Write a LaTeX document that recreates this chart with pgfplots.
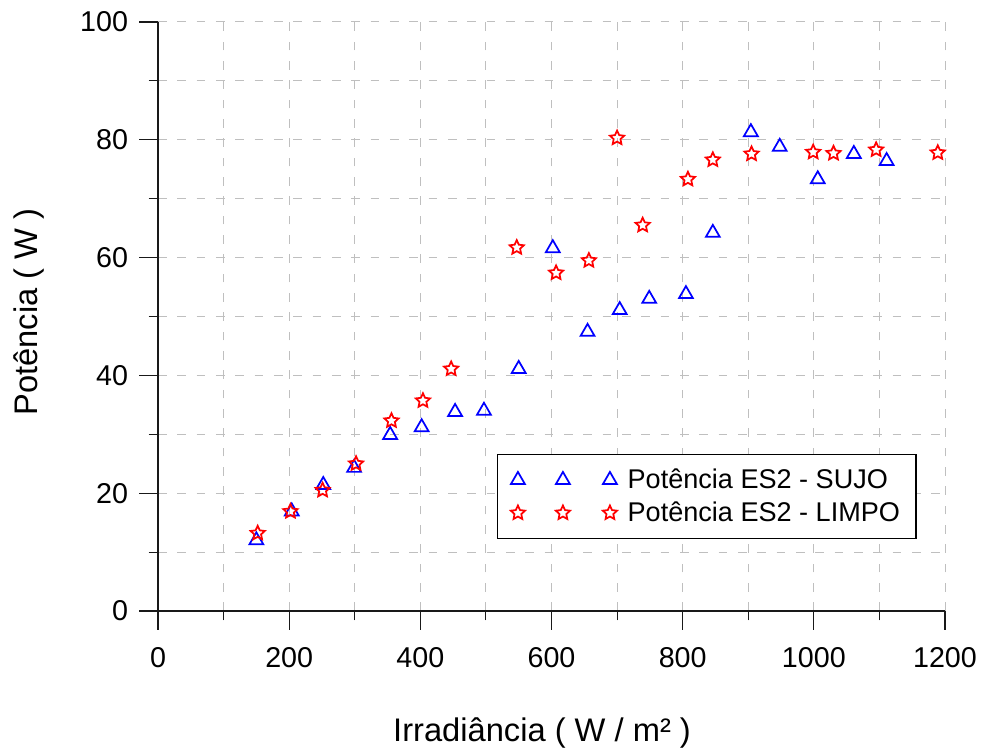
\documentclass[border=0pt]{standalone}
\usepackage{fontspec}
\setmainfont{Liberation Sans}
\usepackage{pgfplots}
\usepackage{pgfplotstable}
\pgfplotsset{compat=1.18}

\pgfdeclareplotmark{ostar}{%
  \pgfpathmoveto{\pgfpointpolar{90}{\pgfplotmarksize}}%
  \pgfpathlineto{\pgfpointpolar{126}{0.48\pgfplotmarksize}}%
  \pgfpathlineto{\pgfpointpolar{162}{\pgfplotmarksize}}%
  \pgfpathlineto{\pgfpointpolar{198}{0.48\pgfplotmarksize}}%
  \pgfpathlineto{\pgfpointpolar{234}{\pgfplotmarksize}}%
  \pgfpathlineto{\pgfpointpolar{270}{0.48\pgfplotmarksize}}%
  \pgfpathlineto{\pgfpointpolar{306}{\pgfplotmarksize}}%
  \pgfpathlineto{\pgfpointpolar{342}{0.48\pgfplotmarksize}}%
  \pgfpathlineto{\pgfpointpolar{18}{\pgfplotmarksize}}%
  \pgfpathlineto{\pgfpointpolar{54}{0.48\pgfplotmarksize}}%
  \pgfpathclose
  \pgfusepathqstroke
}

\pgfplotsset{threemarks/.style={legend image code/.code={%
  \draw[only marks,##1] plot coordinates {(0pt,0pt) (33.75pt,0pt) (69pt,0pt)};}}}

\pgfplotstableread{
x y
150 12.0
204 16.9
252 21.4
299 24.3
354 29.9
402 31.2
453 33.8
497 34.0
550 41.1
602 61.6
655 47.4
704 51.1
749 53.0
805 53.8
846 64.2
904 81.3
948 78.8
1006 73.3
1061 77.6
1111 76.4
}\sujo

\pgfplotstableread{
x y
152 13.2
202 16.9
251 20.5
302 25.0
356 32.3
404 35.7
447 41.1
547 61.7
607 57.4
657 59.5
700 80.3
739 65.5
808 73.3
846 76.6
905 77.6
999 77.9
1030 77.7
1095 78.3
1189 77.8
}\limpo

\begin{document}
\begin{tikzpicture}
\begin{axis}[
  scale only axis, width=590.25pt, height=441.75pt,
  xmin=0, xmax=1200, ymin=0, ymax=100,
  axis lines=left,
  axis line style={-, line width=0.8pt, black!90},
  xtick={0,200,...,1200}, ytick={0,20,...,100},
  minor xtick={100,300,...,1100}, minor ytick={10,30,...,90},
  tick align=outside, major tick length=14pt, minor tick length=7pt,
  every tick/.style={black!90, line width=0.8pt},
  grid=both,
  major grid style={dash pattern=on 6.5pt off 8pt, line width=0.75pt, black!25},
  minor grid style={dash pattern=on 6.5pt off 8pt, line width=0.75pt, black!25},
  /pgf/number format/assume math mode=true,
  /pgf/number format/1000 sep={},
  ticklabel style={font=\fontsize{21.5}{24}\selectfont},
  yticklabel style={anchor=east, inner sep=0pt, xshift=-8.25pt},
  xticklabel style={anchor=north, inner sep=0pt, yshift=-13.5pt},
  xlabel={Irradiância ( W / m² )},
  ylabel={Potência ( W )},
  label style={font=\fontsize{24.5}{28}\selectfont},
  xlabel style={at={(axis description cs:0.488,-0.2215)}, anchor=base},
  ylabel style={at={(axis description cs:-0.1537,0.5076)}, anchor=base},
  legend style={at={(rel axis cs:0.4307,0.1222)}, anchor=south west,
    draw=black, line width=0.8pt, font=\fontsize{20.3}{23}\selectfont,
    inner xsep=10pt, inner ysep=9pt, row sep=4.5pt, column sep=6pt},
  legend cell align=left,
  clip=false,
]
\addplot[only marks, blue, mark=triangle, mark size=6pt, mark options={solid, line width=1.3pt}, threemarks]
  table[x=x, y=y] {\sujo};
\addlegendentry{Potência ES2 - SUJO}
\addplot[only marks, red, mark=ostar, mark size=5.6pt, mark options={solid, line width=1.3pt}, threemarks]
  table[x=x, y=y] {\limpo};
\addlegendentry{Potência ES2 - LIMPO}
\end{axis}
\pgfresetboundingbox
\path ([xshift=-118.5pt,yshift=-103.5pt]current axis.south west) rectangle ([xshift=30.75pt,yshift=16.5pt]current axis.north east);
\end{tikzpicture}
\end{document}
